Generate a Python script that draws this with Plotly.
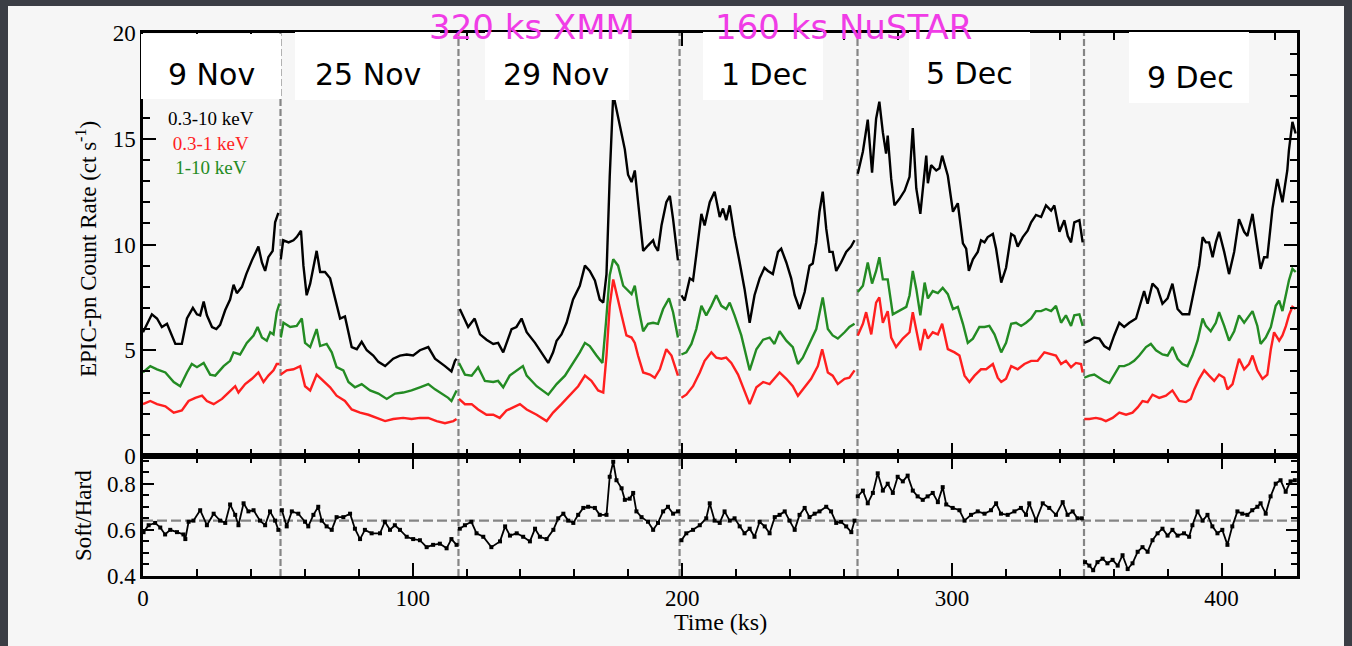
import plotly.graph_objects as go

# Observation start times (ks) and dates
obs_starts = [0, 51, 117, 199, 265, 349]
obs_labels = ["9 Nov", "25 Nov", "29 Nov", "1 Dec", "5 Dec", "9 Dec"]
t_end = 428
ratio_mean = 0.64

# EPIC-pn 0.3-10 keV count rate, one list per observation
total_t = [
    [0, 3.3, 5.2, 7, 8.9, 10.7, 12, 14.4, 16.3, 18.5, 20, 21.2, 22.5, 23.7, 25.6, 27.2, 28.6, 30.5, 32.3, 33.6,
     34.8, 36.7, 38.3, 40.4, 42.8, 44.1, 45.3, 46.5, 48.1, 49, 50.2],
    [51.1, 52, 54, 55.8, 57, 58.6, 59.5, 60.7, 62, 64.4, 65.7, 67.5, 69.4, 70.6, 73.1, 74.9, 77.4, 79.3, 81.1, 83,
     85.4, 87.3, 89.8, 92.8, 95.3, 97.8, 100.2, 102.7, 105.8, 108.3, 110.1, 112, 114.4, 115.7, 116.3],
    [117.5, 120.6, 123, 125, 127.4, 129.9, 131.7, 133.6, 136.7, 138.5, 140.4, 142.3, 145.4, 148.4, 150.3, 152.1,
     153.4, 155.2, 157.1, 159.5, 162, 163.9, 165.7, 167.6, 169.4, 170.7, 171.9, 173.1, 174.4, 175.6, 177.5, 178.7,
     179.9, 181.2, 182.4, 183.6, 184.9, 185.5, 187.3, 189.2, 189.8, 191.0, 192.3, 194.1, 195.4, 196.6, 198.4],
    [199.7, 200.9, 202.8, 204, 205.2, 207.1, 208.3, 210.2, 212, 213.9, 215.1, 216.3, 217.6, 219.4, 221.3, 223.1,
     225, 226.8, 228.7, 230.5, 231.8, 233.6, 235.5, 236.7, 238.6, 240.4, 241.7, 243.5, 245.4, 247.2, 248.4, 249.7,
     250.9, 252.1, 253.4, 254.6, 255.8, 257.1, 258.9, 260.8, 262.6, 263.9],
    [265.1, 267, 268.8, 270.4, 271.9, 273.1, 274.4, 275.6, 276.2, 277.5, 278.7, 280.5, 282.5, 284.3, 285.5, 286.8,
     288.3, 290.5, 291.1, 292.3, 294.2, 295.4, 296.4, 298.5, 300.4, 302.2, 304.1, 305.3, 306.3, 307.8, 309.6, 310.8,
     312.1, 313.3, 315.2, 316.4, 318.3, 320.1, 322, 323.2, 324.4, 326.3, 328.1, 329.4, 331.2, 333.1, 334.9, 336.8,
     338, 339.9, 341.7, 343, 344.2, 345.4, 347.3, 348.5],
    [349.1, 351, 352.8, 354.7, 356.5, 358.4, 360.2, 362.1, 363.9, 365.8, 368.3, 370.1, 371.3, 372.6, 374.4, 376.3,
     378.1, 380, 381.8, 383.7, 385.5, 388, 389.9, 391.7, 393, 394.2, 395.4, 396.7, 397.9, 399.1, 401, 402.8, 404.7,
     406.5, 408.4, 409.6, 411.5, 413.3, 414.5, 415.8, 417, 418.9, 420.7, 422.6, 424.4, 425, 426.3, 427.5],
]
total_rate = [
    [5.85, 6.7, 6.5, 6.1, 6.25, 5.7, 5.3, 5.3, 6.5, 7.0, 6.7, 6.65, 7.3, 6.65, 6.1, 6.0, 6.2, 6.9, 7.4, 8.1,
     7.7, 8.0, 8.6, 9.25, 9.9, 9.15, 8.75, 9.4, 9.7, 11.05, 11.5],
    [9.3, 10.2, 10.1, 10.2, 10.35, 10.65, 9.0, 7.6, 8.15, 9.7, 8.7, 8.7, 8.4, 7.75, 6.5, 6.6, 5.15, 5.05, 5.4, 5.0,
     4.75, 4.45, 4.25, 4.6, 4.75, 4.8, 4.75, 5.0, 5.15, 4.6, 4.45, 4.25, 4.0, 4.5, 4.6],
    [6.95, 6.1, 6.5, 5.75, 5.5, 5.3, 5.35, 4.9, 6.0, 6.1, 6.5, 5.85, 5.35, 4.8, 4.4, 4.9, 5.45, 5.75, 6.3, 7.4,
     8.05, 9.0, 8.75, 8.3, 7.4, 7.25, 8.6, 13.2, 17.1, 16.4, 15.3, 14.5, 13.3, 12.95, 13.5, 12.0, 10.6, 9.7, 9.95,
     10.2, 9.95, 9.7, 10.9, 12.0, 12.3, 11.2, 9.25],
    [7.6, 7.35, 8.4, 8.3, 9.5, 11.45, 10.9, 12.0, 12.5, 11.3, 11.7, 11.15, 11.85, 10.4, 9.15, 7.9, 6.3, 7.6, 8.4,
     8.9, 8.75, 8.6, 9.65, 9.8, 9.15, 8.4, 7.6, 6.95, 7.75, 9.0, 9.1, 10.1, 11.55, 12.5, 10.75, 9.65, 9.65, 8.75,
     9.15, 9.65, 9.9, 10.2],
    [13.35, 14.4, 15.9, 13.4, 15.95, 16.75, 15.3, 14.3, 15.15, 13.1, 11.85, 12.15, 12.55, 13.2, 15.5, 12.65, 11.45,
     14.2, 12.9, 13.75, 13.5, 13.6, 14.2, 13.25, 11.55, 11.95, 10.05, 9.8, 8.75, 9.3, 9.65, 10.2, 10.1, 10.35, 10.5,
     9.8, 8.2, 8.9, 10.5, 10.4, 9.9, 10.35, 10.65, 11.05, 11.4, 11.3, 11.85, 11.6, 11.85, 10.6, 11.15, 10.4, 10.1,
     11.05, 11.15, 10.1],
    [5.35, 5.45, 5.6, 5.55, 5.2, 5.05, 5.7, 6.3, 6.1, 6.3, 6.5, 7.25, 7.8, 7.2, 8.15, 7.9, 7.2, 7.45, 8.15, 6.95,
     6.7, 6.7, 7.9, 9.0, 10.35, 10.1, 10.1, 9.4, 10.1, 10.6, 9.65, 8.6, 9.65, 11.2, 10.6, 10.4, 11.45, 9.8, 8.85,
     9.4, 9.4, 11.7, 13.1, 12.0, 13.5, 14.45, 15.8, 15.25],
]

# 1-10 keV (hard) count rate
hard_t = [
    [0, 2.7, 5.2, 8.3, 11.4, 13.8, 16.3, 18.1, 20, 22.5, 24.9, 26.8, 29.9, 32.3, 33.6, 36, 38.5, 41, 42.5, 44.1,
     45.9, 47.2, 48.4, 49.6, 50.6],
    [51.1, 52.1, 54.6, 57, 58.9, 60.1, 62, 64.4, 65.7, 68.1, 70, 71.8, 74.3, 76.2, 78.6, 81.1, 84.2, 87.3, 90.4,
     93.5, 96.5, 99.6, 102.7, 105.8, 108.3, 110.7, 113.2, 114.4, 116.3],
    [117.2, 119.4, 121.9, 124.3, 126.8, 129.9, 131.7, 133.6, 136, 138.5, 140.9, 142.3, 146, 150.3, 153.4, 156.5,
     159.5, 162, 163.9, 165.7, 168.2, 170.4, 171.7, 173.1, 174.4, 176.2, 178.1, 179.3, 181.2, 182.4, 183.6, 185.5,
     187.3, 189.2, 191.0, 192.9, 195.1, 196.6, 198.4],
    [199.7, 201.5, 203.4, 205.2, 207.1, 208.9, 210.8, 212.6, 214.5, 216.3, 217.6, 219.4, 221.9, 225, 227.5, 230,
     232.4, 234.2, 236.1, 238.6, 241, 242.9, 244.7, 247.2, 249.7, 252.1, 254, 255.8, 257.7, 260.2, 262, 263.9],
    [265.1, 267, 268.8, 270.4, 271.9, 273.1, 274.4, 276.2, 278.1, 280.5, 283.1, 284.3, 285.5, 286.8, 288.3, 289.9,
     291.1, 292.9, 294.8, 296.6, 298.5, 300.4, 302.2, 304.1, 305.9, 307.8, 310.2, 312.1, 313.9, 315.8, 318.3, 320.1,
     322, 323.8, 325.7, 327.5, 329.4, 331.2, 333.1, 334.9, 336.8, 338.6, 340.5, 342.3, 344.2, 345.4, 347.3, 348.5],
    [349.1, 351, 352.8, 354.7, 356.5, 358.4, 360.2, 362.1, 363.9, 365.8, 367.6, 369.5, 372, 373.8, 375.7, 378.1,
     380, 381.8, 383.7, 385.5, 387.4, 389.2, 391.1, 393, 394.2, 396, 397.9, 399.1, 401, 402.8, 404.7, 406.5, 408.4,
     409.6, 411.5, 413.3, 414.5, 416.4, 418.3, 420.1, 421.4, 422.6, 423.9, 425.0, 426.3, 427.5],
]
hard_rate = [
    [3.95, 4.25, 4.1, 3.95, 3.5, 3.3, 3.95, 4.35, 4.2, 4.4, 3.85, 3.8, 4.25, 4.5, 4.9, 4.8, 5.35, 5.7, 6.1, 5.6,
     5.45, 5.85, 5.75, 6.8, 7.2],
    [5.6, 6.3, 6.1, 6.15, 6.5, 5.35, 5.15, 6.0, 5.2, 5.3, 4.9, 4.2, 4.05, 3.5, 3.25, 3.4, 3.1, 2.95, 2.7, 2.95,
     3.0, 3.1, 3.25, 3.4, 3.15, 2.95, 2.75, 2.6, 3.1],
    [4.4, 3.85, 3.8, 4.2, 3.55, 3.5, 3.55, 3.25, 3.8, 4.05, 4.25, 3.8, 3.3, 2.9, 3.4, 3.8, 4.4, 4.9, 5.35, 5.2,
     4.75, 4.4, 6.3, 8.55, 9.3, 9.0, 8.05, 7.9, 7.65, 8.05, 7.1, 5.9, 6.25, 6.3, 6.25, 6.95, 7.45, 6.8, 5.6],
    [4.8, 4.9, 5.3, 6.0, 7.1, 6.65, 7.1, 7.6, 7.1, 6.95, 7.25, 6.65, 5.7, 4.05, 5.05, 5.5, 5.6, 5.3, 5.9, 5.45,
     5.15, 4.35, 4.65, 5.35, 6.0, 7.5, 6.0, 5.7, 5.55, 5.85, 6.1, 6.25],
    [7.75, 8.05, 9.15, 8.15, 8.75, 9.4, 8.35, 8.35, 6.7, 6.85, 7.05, 7.6, 8.75, 7.9, 6.65, 8.2, 7.45, 7.8, 7.7,
     7.95, 7.65, 6.95, 7.05, 6.25, 5.35, 5.55, 6.1, 6.1, 6.15, 5.75, 4.9, 5.35, 6.25, 6.3, 6.15, 6.3, 6.5, 6.85,
     6.85, 6.95, 6.85, 7.1, 6.3, 6.65, 6.15, 6.65, 6.7, 6.15],
    [3.7, 3.8, 3.85, 3.7, 3.55, 3.45, 3.85, 4.25, 4.25, 4.35, 4.5, 4.75, 5.15, 5.3, 5.0, 4.8, 4.75, 5.15, 4.6,
     4.35, 4.25, 4.75, 5.45, 6.5, 6.15, 5.9, 6.3, 6.8, 6.15, 5.45, 5.9, 6.65, 6.3, 6.5, 6.85, 6.15, 5.3, 5.6, 6.1,
     7.1, 7.35, 6.85, 7.6, 8.3, 8.85, 8.7],
]

# 0.3-1 keV (soft) count rate
soft_t = [
    [0, 2.7, 5.2, 8.3, 11.4, 14.4, 16.9, 19.4, 21.9, 23.7, 26.2, 29.3, 31.7, 34.2, 35.4, 37.9, 40.4, 42.8, 44.7,
     46.5, 48.4, 49.6, 50.6],
    [51.1, 53.3, 55.8, 58.3, 60.1, 62, 64.4, 66.9, 69.4, 71.8, 74.9, 77.4, 80.5, 83.6, 86.7, 89.8, 92.8, 96.5,
     99.6, 102.7, 105.8, 108.9, 112, 115.1, 116.3],
    [117.2, 119.4, 121.9, 124.3, 127.4, 129.9, 132.3, 134.8, 137.3, 139.8, 142.3, 146, 149.7, 152.1, 155.2, 158.3,
     161.4, 163.9, 166.3, 168.8, 170.7, 171.9, 173.1, 174.4, 175.6, 177.5, 179.3, 181.2, 182.4, 183.6, 185.5, 188,
     189.8, 191.7, 194.1, 196, 198.4],
    [199.7, 201.5, 204, 206.5, 208.3, 210.8, 212.6, 214.5, 216.3, 218.2, 220.7, 223.1, 225, 227.5, 230, 232.4,
     234.2, 236.1, 238.6, 241, 242.9, 245.4, 247.8, 250.3, 251.9, 254, 255.8, 257.7, 260.2, 262, 263.9],
    [265.1, 267, 268.2, 270.1, 271.9, 273.1, 274.4, 276.2, 277.5, 279.3, 281.8, 283.1, 284.3, 285.5, 287, 288.3,
     289.9, 291.1, 292.9, 294.8, 296.4, 298.5, 301, 302.8, 304.7, 306.5, 308.4, 310.8, 312.7, 315.2, 317, 318.3,
     320.1, 322, 324.4, 326.9, 329.4, 331.8, 334.3, 336.8, 338.6, 340.5, 342.3, 344.2, 346, 347.9, 348.5],
    [349.1, 351, 353.4, 355.3, 357.1, 359.6, 362.1, 364.6, 367, 368.9, 370.7, 372.6, 374.4, 376.9, 379.4, 381.8,
     384.3, 386.8, 388.6, 389.9, 391.7, 393.6, 395.4, 397.3, 399.1, 401, 402.2, 404.1, 406.5, 408.4, 410.2, 411.5,
     413.3, 415.2, 417, 418.3, 419.5, 421.4, 422.6, 423.9, 425, 426.3, 427.5],
]
soft_rate = [
    [2.45, 2.6, 2.45, 2.35, 2.05, 2.15, 2.6, 2.75, 2.85, 2.6, 2.45, 2.7, 3.0, 3.3, 3.0, 3.4, 3.65, 3.95, 3.5, 3.8,
     4.05, 4.35, 4.35],
    [3.85, 4.05, 4.1, 4.25, 3.3, 3.1, 3.85, 3.55, 3.25, 2.85, 2.6, 2.2, 2.05, 1.95, 1.8, 1.65, 1.75, 1.8, 1.75,
     1.8, 1.8, 1.65, 1.55, 1.65, 1.75],
    [2.7, 2.45, 2.45, 2.2, 1.95, 1.95, 1.8, 2.15, 2.3, 2.45, 2.2, 1.95, 1.65, 2.05, 2.45, 2.85, 3.3, 3.8, 3.55,
     3.1, 3.0, 4.75, 7.1, 8.35, 7.65, 6.65, 5.7, 5.6, 5.35, 4.75, 3.95, 3.85, 3.7, 4.1, 5.05, 4.75, 3.8],
    [2.75, 2.9, 3.3, 3.95, 4.5, 4.9, 4.65, 4.6, 4.65, 4.4, 3.85, 3.1, 2.45, 3.25, 3.5, 3.4, 3.65, 3.95, 3.65, 3.3,
     2.85, 3.25, 3.65, 4.25, 5.05, 3.95, 3.8, 3.4, 3.65, 3.7, 4.05],
    [5.7, 6.25, 6.8, 5.75, 7.25, 7.5, 6.3, 6.85, 5.6, 5.15, 5.55, 5.7, 5.85, 6.8, 5.85, 5.0, 6.0, 5.55, 5.85, 5.75,
     6.25, 5.05, 4.9, 4.75, 3.8, 3.5, 3.8, 4.1, 4.1, 4.35, 3.7, 3.5, 3.65, 4.25, 4.1, 4.35, 4.5, 4.5, 4.9, 4.8,
     4.75, 4.35, 4.5, 4.2, 4.4, 4.35, 3.95],
    [1.75, 1.75, 1.8, 1.75, 1.65, 1.8, 2.05, 1.95, 2.05, 2.3, 2.6, 2.55, 2.9, 2.75, 2.85, 3.1, 2.6, 2.55, 2.7,
     3.15, 3.65, 4.05, 3.8, 3.55, 3.85, 3.7, 3.15, 3.4, 4.6, 4.1, 4.35, 4.75, 4.05, 3.65, 3.85, 5.05, 5.85, 5.45,
     5.7, 6.15, 6.65, 7.05, 6.95],
]

# Soft/Hard hardness ratio
ratio_t = [
    [0.2, 2.1, 4.5, 6.4, 8.2, 10.1, 12.6, 15, 15.7, 16.9, 18.7, 21.2, 23.7, 26.2, 28.6, 30.5, 32.3, 34.2, 35.4,
     37.3, 39.1, 41, 43.4, 45.3, 47.1, 49, 50.2],
    [51.5, 53.3, 55.2, 57.6, 60.1, 61.3, 63.2, 65.0, 66.3, 68.1, 70, 71.8, 74.3, 76.8, 78.6, 80.5, 82.3, 84.8,
     87.9, 89.7, 91.6, 93.4, 95.3, 97.8, 100.2, 102.7, 105.2, 107.6, 110.1, 112.6, 114.4, 116.3],
    [117.5, 119.4, 121.8, 123.7, 126.2, 129.2, 132.4, 134.3, 136.1, 138.6, 141, 143.5, 145.4, 147.2, 149.7, 152.2,
     154, 155.9, 157.7, 159.6, 161.4, 163.3, 165.1, 167.6, 169.4, 171.9, 173.1, 174.4, 175.6, 177.5, 178.7, 180.5,
     181.8, 183, 184.9, 187.3, 189.2, 191, 192.9, 194.7, 196.6, 198.4],
    [199.7, 201.5, 204, 206.5, 208.9, 210.2, 212, 213.9, 215.7, 217.6, 219.4, 221.3, 223.1, 225, 226.8, 228.7,
     230.6, 232.4, 234.3, 236.1, 238, 239.8, 241.7, 243.5, 245.4, 247.2, 249.1, 250.9, 253.4, 255.2, 257.1, 258.9,
     260.8, 262.7, 263.9],
    [265.1, 267, 268.8, 270.7, 272.5, 274.4, 276.2, 278.1, 279.9, 281.8, 283.6, 285.5, 287.3, 289.2, 291, 292.9,
     294.8, 296.6, 297.9, 300.3, 302.8, 304.7, 307.1, 309.6, 312.1, 314.5, 316.4, 318.2, 320.7, 323.2, 325.6, 327.5,
     328.7, 331.2, 333.7, 336.1, 338.6, 341.1, 342.9, 344.8, 346.6, 348.2],
    [349.4, 351, 352.4, 354, 355.9, 357.7, 359.6, 361.5, 363.3, 365.2, 367, 368.9, 370.7, 372.6, 374.4, 376.3,
     378.1, 380, 381.8, 383.7, 386.1, 388, 389.2, 391.1, 393, 394.8, 396.6, 398.5, 400.3, 402.2, 404.0, 405.9,
     407.7, 409.6, 411.4, 413.3, 414.5, 416.4, 418.2, 420.1, 421.9, 423.8, 425.6, 427.2],
]
ratio = [
    [0.59, 0.62, 0.63, 0.61, 0.58, 0.60, 0.59, 0.58, 0.56, 0.635, 0.64, 0.685, 0.62, 0.67, 0.64, 0.63, 0.71, 0.665,
     0.62, 0.715, 0.68, 0.685, 0.64, 0.62, 0.68, 0.64, 0.60],
    [0.685, 0.615, 0.68, 0.67, 0.635, 0.615, 0.665, 0.70, 0.64, 0.615, 0.60, 0.655, 0.655, 0.67, 0.605, 0.56, 0.60,
     0.585, 0.585, 0.635, 0.60, 0.62, 0.60, 0.57, 0.56, 0.555, 0.525, 0.535, 0.54, 0.52, 0.56, 0.535],
    [0.605, 0.62, 0.635, 0.585, 0.57, 0.525, 0.55, 0.615, 0.575, 0.585, 0.57, 0.55, 0.605, 0.57, 0.56, 0.60, 0.65,
     0.67, 0.64, 0.63, 0.665, 0.695, 0.70, 0.695, 0.665, 0.665, 0.83, 0.895, 0.815, 0.78, 0.73, 0.735, 0.76, 0.68,
     0.655, 0.635, 0.60, 0.63, 0.68, 0.70, 0.67, 0.68],
    [0.555, 0.585, 0.60, 0.62, 0.65, 0.715, 0.64, 0.63, 0.68, 0.64, 0.65, 0.615, 0.585, 0.605, 0.57, 0.635, 0.615,
     0.585, 0.655, 0.665, 0.68, 0.64, 0.60, 0.665, 0.695, 0.655, 0.67, 0.68, 0.70, 0.68, 0.63, 0.635, 0.615, 0.59,
     0.64],
    [0.745, 0.77, 0.715, 0.76, 0.845, 0.77, 0.80, 0.76, 0.83, 0.81, 0.835, 0.77, 0.745, 0.73, 0.745, 0.76, 0.72,
     0.785, 0.71, 0.695, 0.685, 0.64, 0.665, 0.68, 0.67, 0.685, 0.715, 0.67, 0.665, 0.68, 0.695, 0.665, 0.715, 0.64,
     0.715, 0.695, 0.665, 0.72, 0.665, 0.68, 0.65, 0.65],
    [0.46, 0.445, 0.425, 0.46, 0.475, 0.455, 0.47, 0.445, 0.49, 0.43, 0.455, 0.505, 0.525, 0.505, 0.555, 0.585,
     0.605, 0.575, 0.60, 0.575, 0.585, 0.57, 0.62, 0.68, 0.64, 0.665, 0.615, 0.585, 0.60, 0.535, 0.615, 0.68, 0.67,
     0.665, 0.685, 0.70, 0.715, 0.67, 0.745, 0.80, 0.815, 0.765, 0.81, 0.815],
]

BLACK = "#000000"
RED = "#ff1f1f"
GREEN = "#238b23"
GREY = "#858585"
SERIF = "Liberation Serif"
HAND = "DejaVu Sans"

# canvas geometry (pixels)
W, H = 1352, 646
ML, MR, MT, MB = 143, 55, 33, 70
PW, PH = W - ML - MR, H - MT - MB
split = 120 / PH  # height share of the ratio panel


def px(x):
    return (x - ML) / PW


def py(y):
    return (H - MB - y) / PH


def join(segments):
    out = []
    for i, seg in enumerate(segments):
        if i:
            out.append(None)
        out.extend(seg)
    return out


fig = go.Figure()

for tt, vv, col in [(total_t, total_rate, BLACK), (hard_t, hard_rate, GREEN), (soft_t, soft_rate, RED)]:
    fig.add_trace(go.Scatter(x=join(tt), y=join(vv), mode="lines", line=dict(color=col, width=2.4),
                             xaxis="x", yaxis="y", showlegend=False, hoverinfo="skip"))

fig.add_trace(go.Scatter(x=join(ratio_t), y=join(ratio), mode="lines+markers",
                         line=dict(color=BLACK, width=1.8),
                         marker=dict(symbol="square", size=4, color=BLACK),
                         xaxis="x2", yaxis="y2", showlegend=False, hoverinfo="skip"))

shapes = [
    # light panel behind the figure
    dict(type="rect", xref="paper", yref="paper", x0=px(8), x1=px(1344), y0=py(646), y1=py(6),
         fillcolor="#f6f6f6", line=dict(width=0), layer="below"),
]
for t0 in obs_starts[1:]:
    shapes.append(dict(type="line", xref="x", yref="paper", x0=t0, x1=t0, y0=0, y1=1,
                       line=dict(color=GREY, width=2.2, dash="7px,3px"), layer="below"))
shapes.append(dict(type="line", xref="x2 domain", yref="y2", x0=0, x1=1, y0=ratio_mean, y1=ratio_mean,
                   line=dict(color=GREY, width=2.2, dash="10px,4px"), layer="below"))

# white label boxes along the top of the count-rate panel
label_boxes = [(141, 281, 34, 99), (295, 440, 32, 100), (485, 629, 32, 100),
               (703, 823, 32, 100), (909, 1030, 32, 100), (1129, 1249, 32, 103)]
label_centres = [(211, 74), (368, 74), (556, 74), (764, 74), (969, 73), (1190, 77)]
for (x0, x1, y0, y1) in label_boxes:
    shapes.append(dict(type="rect", xref="paper", yref="paper", x0=px(x0), x1=px(x1), y0=py(y1), y1=py(y0),
                       fillcolor="#ffffff", line=dict(width=0), layer="above"))

annotations = []
for lab, (cx, cy) in zip(obs_labels, label_centres):
    annotations.append(dict(text=lab, x=px(cx), y=py(cy), xref="paper", yref="paper", showarrow=False,
                            xanchor="center", yanchor="middle", font=dict(family=HAND, size=30, color=BLACK)))

for txt, cx in [("320 ks XMM", 532), ("160 ks NuSTAR", 844)]:
    annotations.append(dict(text=txt, x=px(cx), y=py(27), xref="paper", yref="paper", showarrow=False,
                            xanchor="center", yanchor="middle",
                            font=dict(family=HAND, size=34, color="#f03ce6")))

# energy-band key, one block of three coloured lines
band_key = "<br>".join(
    f'<span style="color:{col}">{txt}</span>'
    for txt, col in [("0.3-10 keV", BLACK), ("0.3-1 keV", RED), ("1-10 keV", GREEN)]
)
annotations.append(dict(text=band_key, x=px(211), y=py(143), xref="paper", yref="paper", showarrow=False,
                        xanchor="center", yanchor="middle", align="center",
                        font=dict(family=SERIF, size=19, color=BLACK)))

annotations += [
    dict(text="EPIC-pn Count Rate (ct s<sup>-1</sup>)", x=px(86), y=py(249), xref="paper", yref="paper",
         showarrow=False, textangle=-90, xanchor="center", yanchor="middle",
         font=dict(family=SERIF, size=23, color=BLACK)),
    dict(text="Soft/Hard", x=px(83), y=py(516), xref="paper", yref="paper", showarrow=False, textangle=-90,
         xanchor="center", yanchor="middle", font=dict(family=SERIF, size=23, color=BLACK)),
    dict(text="Time (ks)", x=px(720), y=py(622), xref="paper", yref="paper", showarrow=False,
         xanchor="center", yanchor="middle", font=dict(family=SERIF, size=24, color=BLACK)),
]

axis_common = dict(showline=True, linecolor=BLACK, linewidth=2.5, mirror="ticks", ticks="inside",
                   tickcolor=BLACK, tickwidth=2, showgrid=False, zeroline=False,
                   tickfont=dict(family=SERIF, size=23, color=BLACK))

fig.update_layout(
    width=W, height=H,
    margin=dict(l=ML, r=MR, t=MT, b=MB),
    paper_bgcolor="#3b3e45",
    plot_bgcolor="#f8f8f8",
    showlegend=False,
    shapes=shapes,
    annotations=annotations,
    xaxis=dict(axis_common, domain=[0, 1], anchor="y", range=[0, t_end], tickvals=[0, 100, 200, 300, 400],
               ticklen=13, showticklabels=False, matches="x2",
               minor=dict(dtick=20, tick0=0, ticklen=7, ticks="inside", tickcolor=BLACK, tickwidth=2)),
    yaxis=dict(axis_common, domain=[split, 1], anchor="x", range=[0, 20], tickvals=[0, 5, 10, 15, 20],
               ticklen=13, minor=dict(dtick=1, tick0=0, ticklen=7, ticks="inside", tickcolor=BLACK, tickwidth=2)),
    xaxis2=dict(axis_common, domain=[0, 1], anchor="y2", range=[0, t_end], tickvals=[0, 100, 200, 300, 400],
                ticklen=13, minor=dict(dtick=20, tick0=0, ticklen=7, ticks="inside", tickcolor=BLACK, tickwidth=2)),
    yaxis2=dict(axis_common, domain=[0, split], anchor="x2", range=[0.4, 0.92], tickvals=[0.4, 0.6, 0.8],
                ticktext=["0.4", "0.6", "0.8"], ticklen=11,
                minor=dict(dtick=0.05, tick0=0.4, ticklen=6, ticks="inside", tickcolor=BLACK, tickwidth=2)),
)

fig.write_html("out.html")
